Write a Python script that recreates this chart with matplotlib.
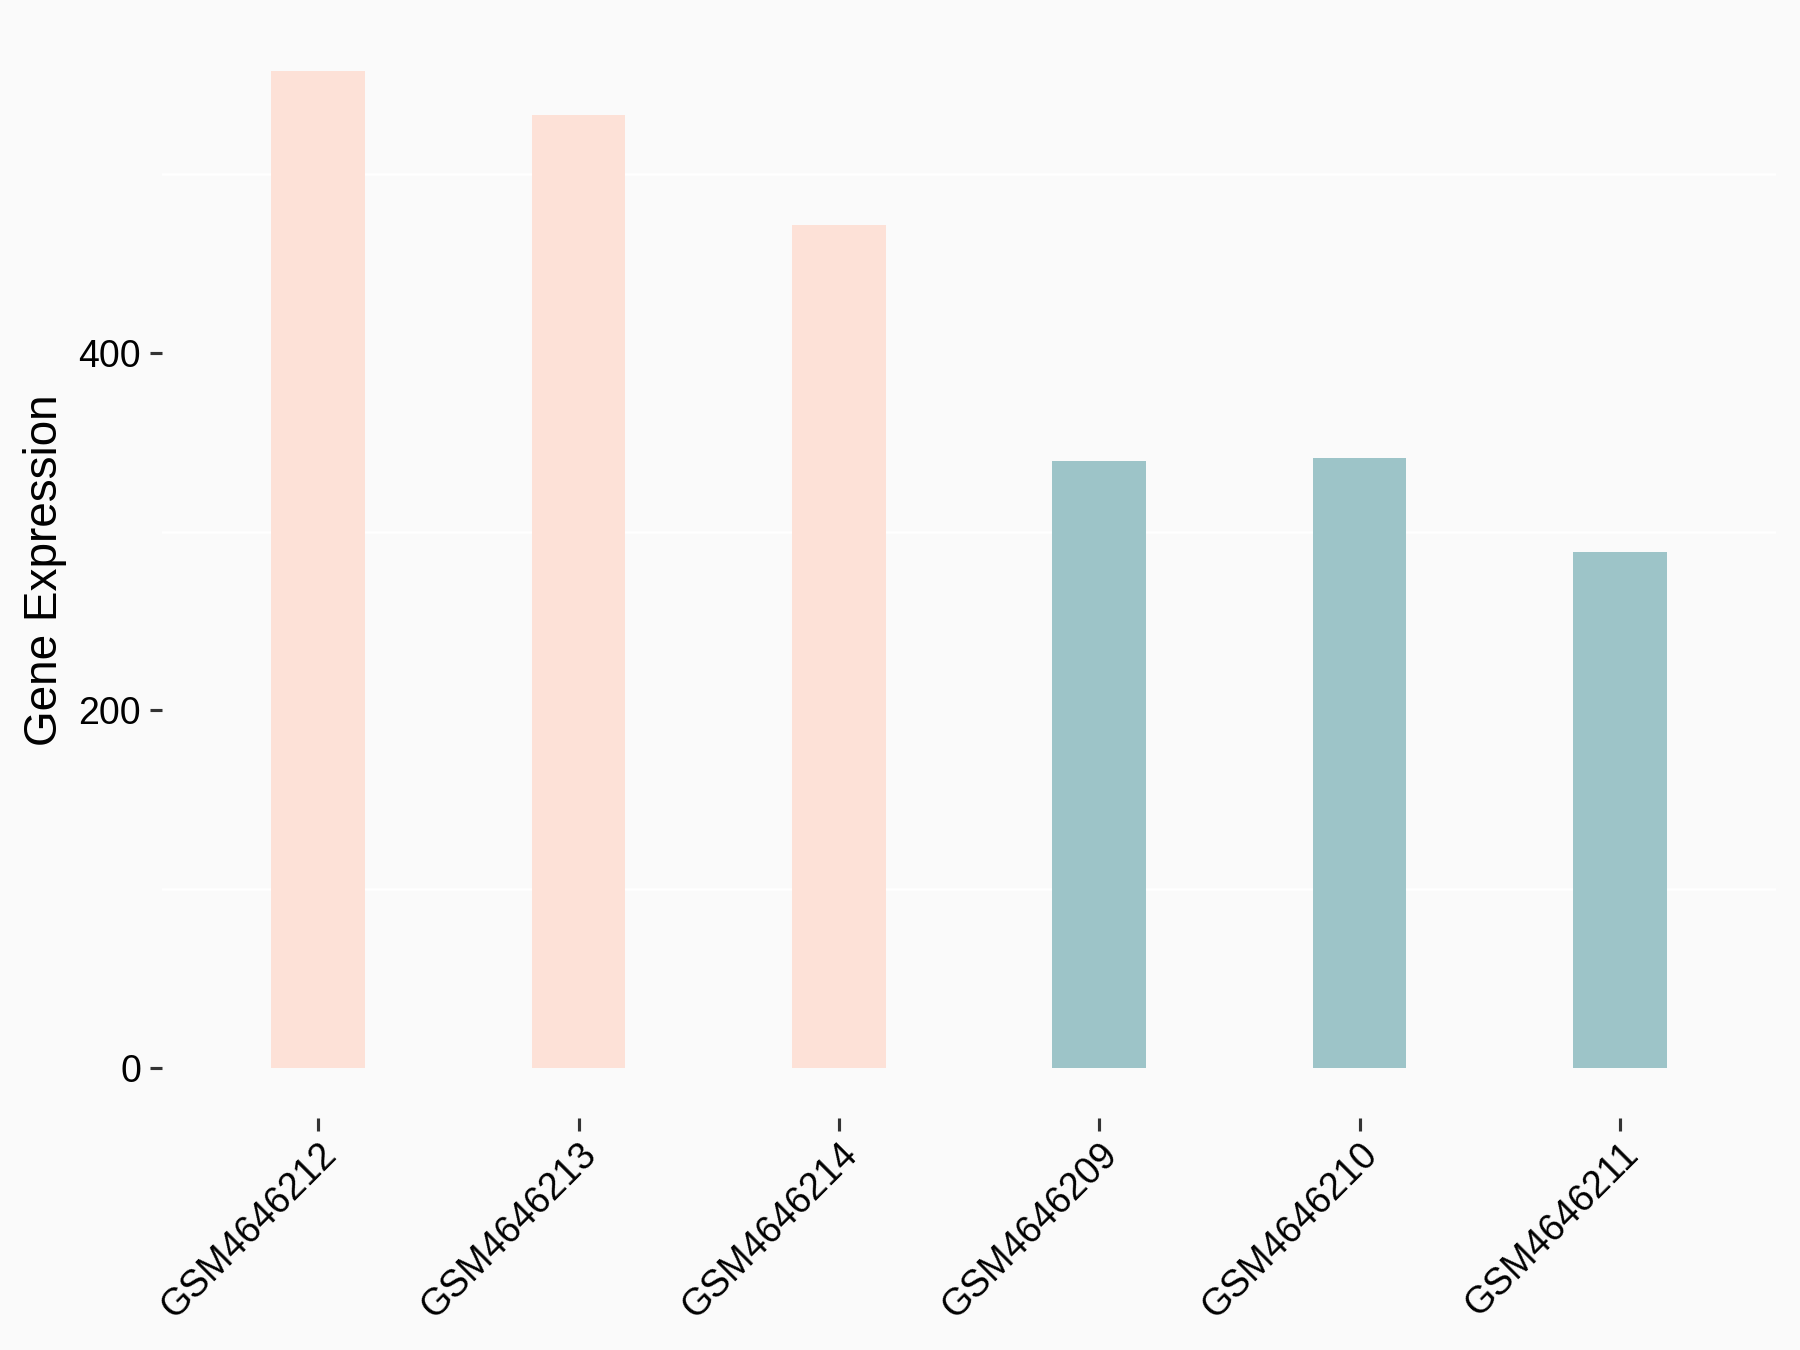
import numpy as np
import matplotlib
matplotlib.use('Agg')
import matplotlib.pyplot as plt

# sample names and expression values
samples = ['GSM4646212', 'GSM4646213', 'GSM4646214',
           'GSM4646209', 'GSM4646210', 'GSM4646211']
expression = [557.3, 532.9, 471.3, 339.6, 340.9, 288.3]
groups = ['A', 'A', 'A', 'B', 'B', 'B']
group_colors = {'A': '#FDE1D7', 'B': '#9DC4C8'}

plt.rcParams['font.family'] = ['Liberation Sans', 'DejaVu Sans']

bg = '#FAFAFA'
fig = plt.figure(figsize=(12, 9), dpi=150, facecolor=bg)
ax = fig.add_axes([0.09, 0.172, 0.8967, 0.812], facecolor=bg)

x = np.arange(1, len(samples) + 1)
ax.bar(x, expression, width=0.36, color=[group_colors[g] for g in groups],
       zorder=2)

ymax = max(expression)
ax.set_xlim(0.4, len(samples) + 0.6)
ax.set_ylim(-0.05 * ymax, 1.05 * ymax)

ax.set_yticks([0, 200, 400])
ax.set_yticks([100, 300, 500], minor=True)
ax.grid(which='minor', axis='y', color='white', linewidth=1.2, zorder=0)
ax.grid(which='major', visible=False)
ax.tick_params(axis='y', which='minor', length=0)
ax.tick_params(axis='both', which='major', length=6, width=1.5,
               color='#333333', labelcolor='black', pad=4)
ax.tick_params(axis='y', labelsize=18)
ax.tick_params(axis='x', labelsize=18, pad=3)

ax.set_xticks(x)
ax.set_xticklabels(samples, rotation=45, ha='right', va='top',
                   rotation_mode='anchor')

ax.set_ylabel('Gene Expression', fontsize=22, labelpad=5.5)

for s in ax.spines.values():
    s.set_visible(False)

fig.savefig('out.png', dpi=150, facecolor=bg)
